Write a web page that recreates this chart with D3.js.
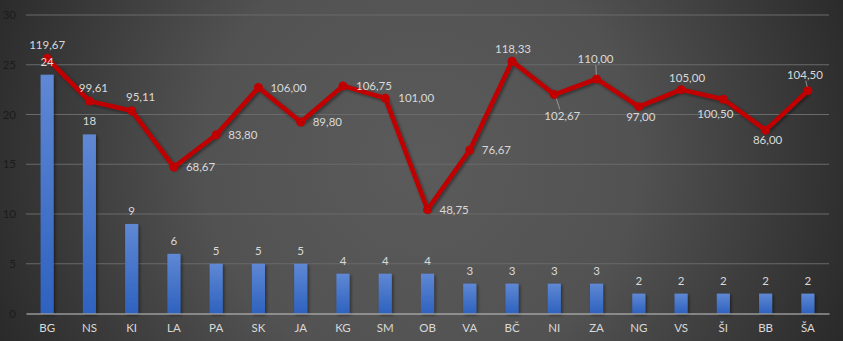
<!DOCTYPE html>
<html>
<head>
<meta charset="utf-8">
<script src="https://cdn.jsdelivr.net/npm/d3@7"></script>
<style>
  html, body { margin: 0; padding: 0; background: #333; }
  svg { display: block; }
  text { font-family: Lato, "Open Sans", sans-serif; }
</style>
</head>
<body>
<svg id="chart" width="843" height="341"></svg>
<script>
// ---- data ----
const categories = ["BG","NS","KI","LA","PA","SK","JA","KG","SM","OB","VA","BČ","NI","ZA","NG","VS","ŠI","BB","ŠA"];
const counts = [24,18,9,6,5,5,5,4,4,4,3,3,3,3,2,2,2,2,2];
const averages = [119.67,99.61,95.11,68.67,83.80,106.00,89.80,106.75,101.00,48.75,76.67,118.33,102.67,110.00,97.00,105.00,100.50,86.00,104.50];
const yTicks = [0,5,10,15,20,25,30];

// label placement for line values: [dx, dy, anchor, leader]
const lineLabelPlacement = [
  [0,-13,"middle",false],[4,-13,"middle",false],[9,-14,"middle",false],
  [12,0,"start",false],[12,0,"start",false],[12,0,"start",false],[12,0,"start",false],
  [13,0,"start",false],[13,0,"start",false],[12,0,"start",false],[12,0,"start",false],
  [1,-12,"middle",false],[8,21,"middle",true],[-1,-20,"middle",true],
  [2,10,"middle",false],[6,-12,"middle",false],[-8,15,"middle",false],
  [2,10,"middle",false],[-3,-16,"middle",true]
];

const svg = d3.select("#chart");
const W = 843, H = 341;
const defs = svg.append("defs");

const bg = defs.append("radialGradient").attr("id","bg")
  .attr("gradientUnits","userSpaceOnUse")
  .attr("cx",420).attr("cy",160).attr("r",480);
bg.append("stop").attr("offset","0%").attr("stop-color","#5b5b5b");
bg.append("stop").attr("offset","45%").attr("stop-color","#525252");
bg.append("stop").attr("offset","100%").attr("stop-color","#262626");

const barG = defs.append("linearGradient").attr("id","barG")
  .attr("x1",0).attr("y1",0).attr("x2",0).attr("y2",1);
barG.append("stop").attr("offset","0%").attr("stop-color","#5f88d4");
barG.append("stop").attr("offset","100%").attr("stop-color","#2e62bf");

const shadow = defs.append("filter").attr("id","sh").attr("x","-50%").attr("y","-20%").attr("width","200%").attr("height","150%");
shadow.append("feDropShadow").attr("dx",1.5).attr("dy",1.5).attr("stdDeviation",1.5).attr("flood-color","#000").attr("flood-opacity",0.45);

svg.append("rect").attr("width",W).attr("height",H).attr("fill","url(#bg)");

const x = d3.scaleBand().domain(categories).range([26, 829]).paddingInner(0.69).paddingOuter(0.345);
const y = d3.scaleLinear().domain([0,30]).range([313.5, 15]);
const y2 = d3.scaleLinear().domain([0,140]).range([313.5, 15]);
const cx = d => x(d) + x.bandwidth()/2;

// gridlines
svg.append("g").selectAll("line").data(yTicks.filter(t => t > 0)).join("line")
  .attr("x1",26).attr("x2",829)
  .attr("y1",d=>y(d)).attr("y2",d=>y(d))
  .attr("stroke","#6a6a6a").attr("stroke-width",1);

// y axis
const yAxis = d3.axisLeft(y).tickValues(yTicks).tickSize(0).tickPadding(0);
const gy = svg.append("g").attr("transform","translate(16,0)").call(yAxis);
gy.select(".domain").remove();
gy.selectAll("text").attr("fill","#1c1c1c").style("font-size","11.5px")
  .style("font-family","Lato, 'Open Sans', sans-serif");

// bars
svg.append("g").selectAll("rect").data(counts).join("rect")
  .attr("x",(d,i)=>x(categories[i]))
  .attr("width",x.bandwidth())
  .attr("y",d=>y(d))
  .attr("height",d=>y(0)-y(d))
  .attr("fill","url(#barG)")
  .attr("filter","url(#sh)");

// x axis
const xAxis = d3.axisBottom(x).tickSize(0).tickPadding(10);
const gx = svg.append("g").attr("transform",`translate(0,${y(0)})`).call(xAxis);
gx.select(".domain").attr("stroke","#c8c8c8").attr("stroke-width",1.2);
gx.selectAll("text").attr("fill","#d9d9d9").style("font-size","11.5px")
  .style("font-family","Lato, 'Open Sans', sans-serif");

// line
const line = d3.line().x((d,i)=>cx(categories[i])).y(d=>y2(d));
svg.append("path").datum(averages)
  .attr("d",line).attr("fill","none")
  .attr("stroke","#c00000").attr("stroke-width",4.5)
  .attr("stroke-linejoin","round").attr("filter","url(#sh)");
svg.append("g").selectAll("circle").data(averages).join("circle")
  .attr("cx",(d,i)=>cx(categories[i])).attr("cy",d=>y2(d))
  .attr("r",4.5).attr("fill","#c00000");

// bar labels (drawn above the line, as in the reference)
svg.append("g").selectAll("text").data(counts).join("text")
  .attr("x",(d,i)=>cx(categories[i]))
  .attr("y",d=>y(d)-9)
  .attr("text-anchor","middle")
  .attr("fill","#d9d9d9").style("font-size","11.5px")
  .text(d=>d);

// leader lines
const fmt = v => v.toFixed(2).replace(".", ",");
svg.append("g").selectAll("line").data(averages.map((v,i)=>({v,i})).filter(o=>lineLabelPlacement[o.i][3])).join("line")
  .attr("x1",o=>cx(categories[o.i]) + lineLabelPlacement[o.i][0]*0.25)
  .attr("y1",o=>y2(o.v) + Math.sign(lineLabelPlacement[o.i][1])*4)
  .attr("x2",o=>cx(categories[o.i]) + lineLabelPlacement[o.i][0]*0.7)
  .attr("y2",o=>y2(o.v) + lineLabelPlacement[o.i][1] - Math.sign(lineLabelPlacement[o.i][1])*6)
  .attr("stroke","#a6a6a6").attr("stroke-width",0.8);

// line labels
svg.append("g").selectAll("text").data(averages).join("text")
  .attr("x",(d,i)=>cx(categories[i]) + lineLabelPlacement[i][0])
  .attr("y",(d,i)=>y2(d) + lineLabelPlacement[i][1])
  .attr("dy","0.35em")
  .attr("text-anchor",(d,i)=>lineLabelPlacement[i][2])
  .attr("fill","#d9d9d9").style("font-size","11.5px")
  .text(d=>fmt(d));
</script>
</body>
</html>
